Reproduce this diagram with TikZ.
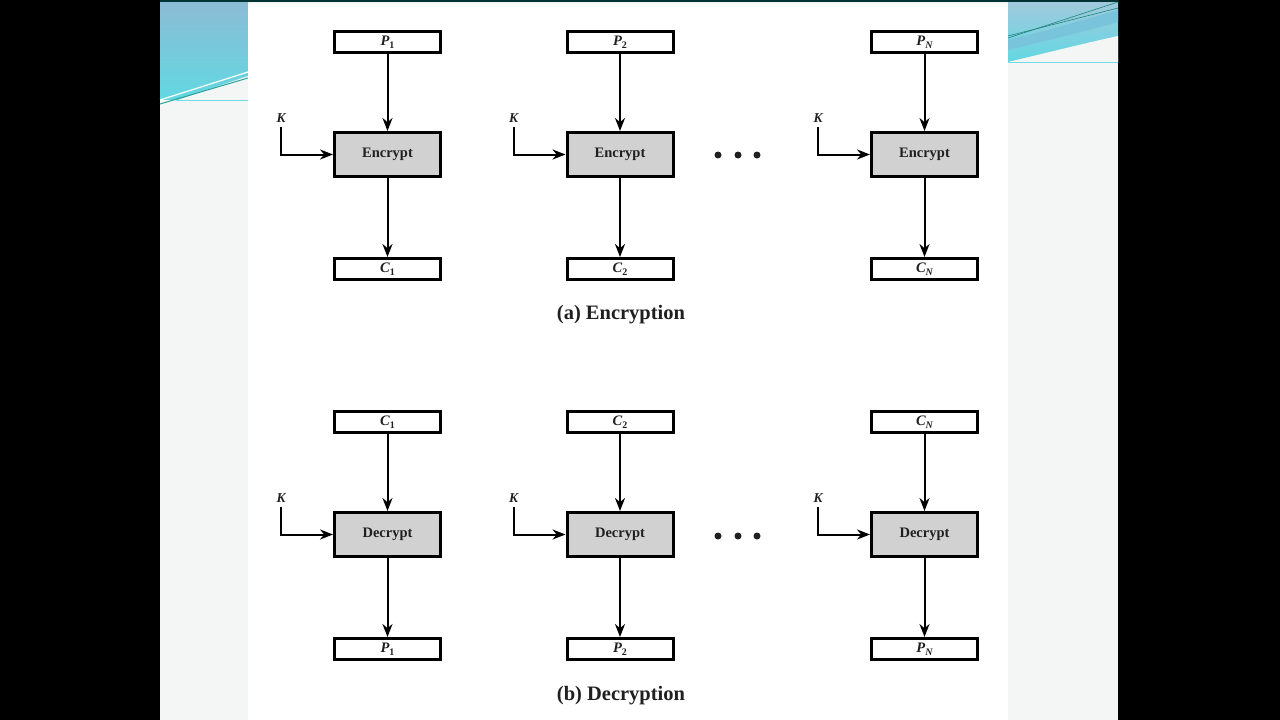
\documentclass[tikz,border=0pt]{standalone}
\usepackage{fontspec}
\setmainfont{Liberation Serif}
\usetikzlibrary{arrows.meta}
\newcommand\labsub[2]{#1\raisebox{-0.4ex}{\fontsize{10}{10}\selectfont #2}}
\definecolor{slidebg}{HTML}{F4F6F6}
\definecolor{swtop}{HTML}{8CBBD4}
\definecolor{swbot}{HTML}{62D8E2}
\definecolor{swline}{HTML}{2AA39A}
\definecolor{swdark}{HTML}{3FA9CC}
\definecolor{txt}{HTML}{202020}
\begin{document}
\begin{tikzpicture}[x=1pt,y=-1pt,
  blk/.style={draw=black, line width=3pt, fill=white, minimum width=106pt, minimum height=21pt, inner sep=0pt, font=\fontsize{14.5}{14.5}\selectfont\bfseries\itshape, text=txt},
  fun/.style={blk, fill=black!18, minimum height=44pt, font=\fontsize{14.5}{15}\selectfont\bfseries\upshape},
  arr/.style={line width=2pt, -{Stealth[length=13pt,width=10pt]}},
  klab/.style={font=\fontsize{13.5}{13.5}\selectfont\bfseries\itshape, inner sep=0pt, text=txt},
  captxt/.style={font=\fontsize{20.5}{20.5}\selectfont\bfseries, text=txt},
  dotn/.style={circle, fill=txt, minimum size=7pt, inner sep=0pt}]
% background and slide
\useasboundingbox (0,0) rectangle (1280,720);
\fill[black] (0,0) rectangle (1280,720);
\fill[slidebg] (160,0) rectangle (1118,720);
% top-left swoosh
\shade[top color=swtop, bottom color=swbot] (160,0) rectangle (248,100);
\fill[slidebg] (160,106) -- (248,76) -- (248,100) -- (160,100) -- cycle;
\draw[swline, line width=1pt] (160,104) -- (248,78);
\draw[white, line width=1.2pt] (160,100) -- (248,72);
% top-right swoosh
\shade[top color=swtop!80, bottom color=swbot] (1008,0) rectangle (1118,62);
\fill[slidebg] (1008,62) .. controls (1050,52) and (1090,42) .. (1118,36) -- (1118,62) -- cycle;
\fill[swdark!70] (1008,40) .. controls (1050,30) and (1090,18) .. (1118,10) -- (1118,22) .. controls (1090,30) and (1050,40) .. (1008,50) -- cycle;
\draw[swline!80!black, line width=0.6pt] (1008,38) -- (1118,2);
\draw[swline!80!black, line width=0.6pt] (1008,36) -- (1118,8);
% top border
\draw[black!60!teal, line width=1.5pt] (160,0.75) -- (1118,0.75);
% inner white panel
\fill[white] (248,4) rectangle (1008,720);

% ----- encryption -----
\foreach \i/\x/\s in {1/387.5/\upshape 1, 2/620/\upshape 2, 3/924.5/N} {
  \node[blk] (pa\i) at (\x,42) {\labsub{P}{\s}};
  \node[fun] (ea\i) at (\x,154.5) {Encrypt};
  \node[blk] (ca\i) at (\x,269) {\labsub{C}{\s}};
  \draw[arr] (pa\i) -- (ea\i);
  \draw[arr] (ea\i) -- (ca\i);
  \node[klab] (ka\i) at ({\x-106.5},118) {K};
  \coordinate (kas\i) at ({\x-106.5},127);
  \draw[arr] (kas\i) |- (ea\i.west);
}
\node[dotn] (da1) at (718,155) {};
\node[dotn] (da2) at (738,155) {};
\node[dotn] (da3) at (757,155) {};
\node[captxt] (capa) at (621,315) {(a) Encryption};

% ----- decryption -----
\foreach \i/\x/\s in {1/387.5/\upshape 1, 2/620/\upshape 2, 3/924.5/N} {
  \node[blk] (cb\i) at (\x,422) {\labsub{C}{\s}};
  \node[fun] (db\i) at (\x,534.5) {Decrypt};
  \node[blk] (pb\i) at (\x,649) {\labsub{P}{\s}};
  \draw[arr] (cb\i) -- (db\i);
  \draw[arr] (db\i) -- (pb\i);
  \node[klab] (kb\i) at ({\x-106.5},498) {K};
  \coordinate (kbs\i) at ({\x-106.5},507);
  \draw[arr] (kbs\i) |- (db\i.west);
}
\node[dotn] (db1d) at (718,536) {};
\node[dotn] (db2d) at (738,536) {};
\node[dotn] (db3d) at (757,536) {};
\node[captxt] (capb) at (621,696) {(b) Decryption};
\end{tikzpicture}
\end{document}
